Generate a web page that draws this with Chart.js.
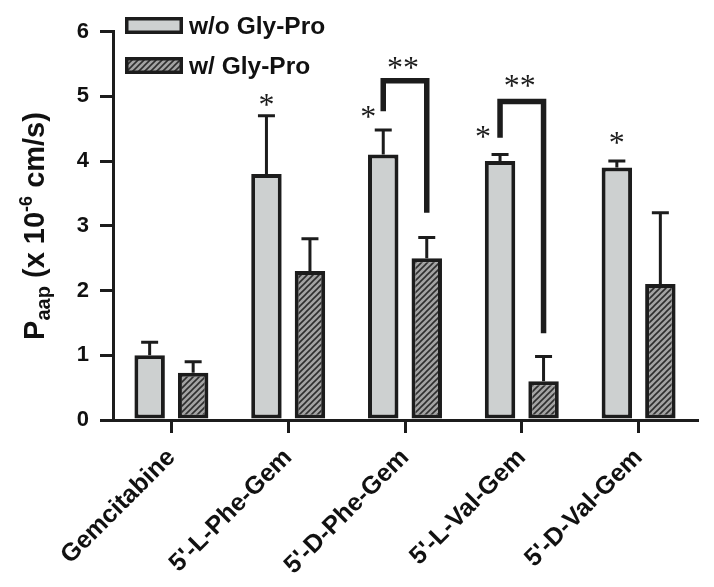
<!DOCTYPE html>
<html><head><meta charset="utf-8">
<script src="https://cdn.jsdelivr.net/npm/chart.js@4.4.1/dist/chart.umd.min.js"></script>
<style>html,body{margin:0;padding:0;background:#fff}#wrap{width:714px;height:587px;position:relative}</style>
</head><body><div id="wrap"><canvas id="c" width="714" height="587"></canvas></div>
<script>
const categories = ["Gemcitabine", "5'-L-Phe-Gem", "5'-D-Phe-Gem", "5'-L-Val-Gem", "5'-D-Val-Gem"];
const seriesNames = ["w/o Gly-Pro", "w/ Gly-Pro"];
const withoutGlyPro = [1.0, 3.8, 4.1, 4.0, 3.9];
const withGlyPro = [0.73, 2.3, 2.5, 0.6, 2.1];
const withoutGlyProErr = [0.2, 0.9, 0.38, 0.1, 0.1];
const withGlyProErr = [0.17, 0.5, 0.32, 0.38, 1.1];
const yTicks = [0, 1, 2, 3, 4, 5, 6];
// single significance marks: [categoryIndex, seriesIndex, yValue]
const singleStars = [[1, 0, 4.94], [2, 0, 4.76], [3, 0, 4.45], [4, 0, 4.35]];
// brackets: [categoryIndex, leftLegBottomY, topY, rightLegBottomY, doubleStarY]
const brackets = [[2, 4.77, 5.24, 3.2, 5.51], [3, 4.36, 4.92, 1.34, 5.24]];

const FONT = "'Liberation Sans', Arial, sans-serif";
const INK = '#1c1c1c';
const GRAY = '#cdd0d0';

function makeHatch() {
  const s = 6;
  const c = document.createElement('canvas');
  c.width = s; c.height = s;
  const g = c.getContext('2d');
  g.fillStyle = '#a3a3a3';
  g.fillRect(0, 0, s, s);
  g.strokeStyle = '#2e2e2e';
  g.lineWidth = 1.6;
  g.beginPath();
  g.moveTo(0, s); g.lineTo(s, 0);
  g.moveTo(-s, s); g.lineTo(s, -s);
  g.moveTo(0, 2 * s); g.lineTo(2 * s, 0);
  g.stroke();
  return g.createPattern(c, 'repeat');
}
const hatch = makeHatch();

const starNudge = [0, -15, -17, 0];

const annotPlugin = {
  id: 'annot',
  afterDatasetsDraw(chart) {
    const ctx = chart.ctx, ys = chart.scales.y;
    const metas = [chart.getDatasetMeta(0), chart.getDatasetMeta(1)];
    const vals = [withoutGlyPro, withGlyPro];
    const errs = [withoutGlyProErr, withGlyProErr];
    ctx.save();
    ctx.strokeStyle = INK;
    ctx.lineWidth = 3;
    ctx.lineCap = 'butt';
    metas.forEach((meta, s) => {
      meta.data.forEach((bar, i) => {
        const x = bar.x;
        const yt = ys.getPixelForValue(vals[s][i]);
        const ye = ys.getPixelForValue(vals[s][i] + errs[s][i]);
        ctx.beginPath();
        ctx.moveTo(x, yt); ctx.lineTo(x, ye);
        ctx.moveTo(x - 8.5, ye); ctx.lineTo(x + 8.5, ye);
        ctx.stroke();
      });
    });
    // brackets
    ctx.lineWidth = 5.5;
    ctx.lineJoin = 'miter';
    brackets.forEach(([ci, ly, ty, ry]) => {
      const xl = metas[0].data[ci].x, xr = metas[1].data[ci].x;
      ctx.beginPath();
      ctx.moveTo(xl, ys.getPixelForValue(ly));
      ctx.lineTo(xl, ys.getPixelForValue(ty));
      ctx.lineTo(xr, ys.getPixelForValue(ty));
      ctx.lineTo(xr, ys.getPixelForValue(ry));
      ctx.stroke();
    });
    // stars
    ctx.fillStyle = INK;
    ctx.font = "32px 'Liberation Serif', 'Times New Roman', serif";
    ctx.textAlign = 'center';
    ctx.textBaseline = 'alphabetic';
    const drawStar = (txt, x, yv) => {
      const m = ctx.measureText(txt);
      const a = m.actualBoundingBoxAscent, d = m.actualBoundingBoxDescent;
      const yc = ys.getPixelForValue(yv);
      ctx.fillText(txt, x, yc + (a - d) / 2);
    };
    singleStars.forEach(([ci, si, yv], k) => {
      drawStar('*', metas[si].data[ci].x + starNudge[k], yv);
    });
    brackets.forEach(([ci, ly, ty, ry, sy]) => {
      const xm = (metas[0].data[ci].x + metas[1].data[ci].x) / 2 - 2;
      drawStar('**', xm, sy);
    });
    ctx.restore();
  },
  afterDraw(chart) {
    const ctx = chart.ctx, ca = chart.chartArea;
    ctx.save();
    // y axis title with sub/superscripts
    const parts = [
      { t: 'P', size: 29, dy: 0 },
      { t: 'aap', size: 20, dy: 6 },
      { t: ' (x 10', size: 29, dy: 0 },
      { t: '-6', size: 18, dy: -12 },
      { t: ' cm/s)', size: 29, dy: 0 }
    ];
    let W = 0;
    parts.forEach(p => { ctx.font = `bold ${p.size}px ${FONT}`; p.w = ctx.measureText(p.t).width; W += p.w; });
    const cy = 226;
    ctx.translate(44, cy);
    ctx.rotate(-Math.PI / 2);
    ctx.fillStyle = '#111';
    ctx.textBaseline = 'alphabetic';
    ctx.textAlign = 'left';
    let x = -W / 2;
    parts.forEach(p => { ctx.font = `bold ${p.size}px ${FONT}`; ctx.fillText(p.t, x, p.dy); x += p.w; });
    ctx.restore();

    // legend
    ctx.save();
    const ds = chart.data.datasets;
    const bx = ca.left + 12, bw = 58, bh = 17;
    const rows = [17, 57];
    ds.forEach((d, i) => {
      const by = rows[i];
      ctx.fillStyle = d.backgroundColor;
      ctx.fillRect(bx, by, bw, bh);
      ctx.strokeStyle = INK;
      ctx.lineWidth = 3.5;
      ctx.strokeRect(bx + 1.75, by + 1.75, bw - 3.5, bh - 3.5);
      ctx.fillStyle = '#111';
      ctx.font = `bold 24.5px ${FONT}`;
      ctx.textBaseline = 'alphabetic';
      ctx.textAlign = 'left';
      ctx.fillText(d.label, bx + bw + 6, by + 17);
    });
    ctx.restore();
  }
};

new Chart(document.getElementById('c'), {
  type: 'bar',
  data: {
    labels: categories,
    datasets: [
      { label: seriesNames[0], data: withoutGlyPro, backgroundColor: GRAY, borderColor: INK, borderWidth: 4, borderSkipped: false },
      { label: seriesNames[1], data: withGlyPro, backgroundColor: hatch, borderColor: INK, borderWidth: 4, borderSkipped: false }
    ]
  },
  options: {
    responsive: false,
    animation: false,
    devicePixelRatio: 1,
    layout: { padding: { top: 31.5, right: 17, left: 0, bottom: 0 } },
    datasets: { bar: { categoryPercentage: 0.745, barPercentage: 0.7 } },
    plugins: { legend: { display: false }, tooltip: { enabled: false }, title: { display: false } },
    scales: {
      x: {
        offset: true,
        grid: { display: true, offset: false, drawOnChartArea: false, drawTicks: true, tickLength: 13, lineWidth: 3, color: INK },
        border: { display: true, color: INK, width: 3 },
        ticks: { color: '#111', font: { family: FONT, size: 25, weight: 'bold' }, maxRotation: 45, minRotation: 45, autoSkip: false, padding: 10 },
        afterFit(s) { s.height = 167; }
      },
      y: {
        min: 0, max: 6,
        afterBuildTicks(s) { s.ticks = yTicks.map(v => ({ value: v })); },
        grid: { display: true, drawOnChartArea: false, drawTicks: true, tickLength: 13, lineWidth: 3, color: INK },
        border: { display: true, color: INK, width: 3 },
        ticks: { color: '#111', font: { family: FONT, size: 22, weight: 'bold' }, padding: 11 },
        afterFit(s) { s.width = 113; }
      }
    }
  },
  plugins: [annotPlugin]
});
</script></body></html>
